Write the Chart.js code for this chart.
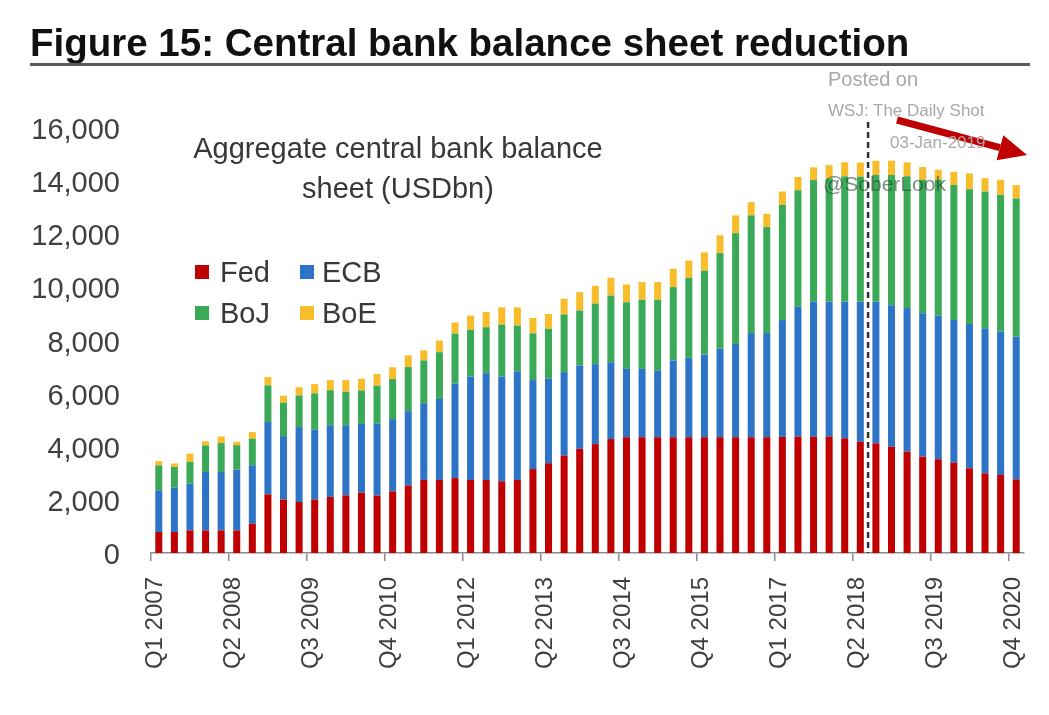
<!DOCTYPE html>
<html lang="en">
<head>
<meta charset="UTF-8">
<title>Central bank balance sheet reduction</title>
<script src="https://cdn.jsdelivr.net/npm/chart.js"></script>
<style>
  body { margin: 0; background: #fff; font-family: "Liberation Sans", Arial, sans-serif; }
  #wrap { position: relative; width: 1049px; height: 715px; overflow: hidden; }
  #chart { position: absolute; left: 0; top: 0; }
  .t { position: absolute; white-space: nowrap; }
  .title { left: 30px; top: 24px; font-size: 38.5px; line-height: 38px; font-weight: bold; color: #111; }
  .rule { position: absolute; left: 30px; top: 63px; width: 1000px; height: 3px; background: #5a5a5a; }
  .sub { left: 148px; top: 128px; width: 500px; text-align: center; font-size: 29px; line-height: 40px; color: #383838; }
  .leg { font-size: 29px; line-height: 30px; color: #383838; }
  .sq { position: absolute; width: 14px; height: 14px; }
  .wm { color: #a8a8a8; }
</style>
</head>
<body>
<div id="wrap">
  <canvas id="chart" width="1049" height="715"></canvas>

  <div class="t title">Figure 15: Central bank balance sheet reduction</div>
  <div class="rule"></div>

  <div class="t sub">Aggregate central bank balance<br>sheet (USDbn)</div>

  <!-- legend -->
  <div class="sq" style="left:195px;top:265px;background:#c00000"></div>
  <div class="t leg" style="left:220px;top:257px">Fed</div>
  <div class="sq" style="left:300px;top:265px;background:#2e74c6"></div>
  <div class="t leg" style="left:322px;top:257px">ECB</div>
  <div class="sq" style="left:195px;top:306px;background:#3aaa58"></div>
  <div class="t leg" style="left:220px;top:298px">BoJ</div>
  <div class="sq" style="left:300px;top:306px;background:#f9bd2c"></div>
  <div class="t leg" style="left:322px;top:298px">BoE</div>

  <!-- watermark -->
  <div class="t wm" style="left:828px;top:68px;font-size:20px">Posted on</div>
  <div class="t wm" style="left:828px;top:101px;font-size:17px">WSJ: The Daily Shot</div>
  <div class="t wm" style="left:890px;top:133px;font-size:17px">03-Jan-2019</div>
  <div class="t" style="left:823px;top:172px;font-size:21px;color:rgba(40,70,45,0.6)">@SoberLook</div>
</div>

<script>
// quarterly data, USD bn
const quarters = [
  'Q1 2007', 'Q2 2007', 'Q3 2007', 'Q4 2007',
  'Q1 2008', 'Q2 2008', 'Q3 2008', 'Q4 2008',
  'Q1 2009', 'Q2 2009', 'Q3 2009', 'Q4 2009',
  'Q1 2010', 'Q2 2010', 'Q3 2010', 'Q4 2010',
  'Q1 2011', 'Q2 2011', 'Q3 2011', 'Q4 2011',
  'Q1 2012', 'Q2 2012', 'Q3 2012', 'Q4 2012',
  'Q1 2013', 'Q2 2013', 'Q3 2013', 'Q4 2013',
  'Q1 2014', 'Q2 2014', 'Q3 2014', 'Q4 2014',
  'Q1 2015', 'Q2 2015', 'Q3 2015', 'Q4 2015',
  'Q1 2016', 'Q2 2016', 'Q3 2016', 'Q4 2016',
  'Q1 2017', 'Q2 2017', 'Q3 2017', 'Q4 2017',
  'Q1 2018', 'Q2 2018', 'Q3 2018', 'Q4 2018',
  'Q1 2019', 'Q2 2019', 'Q3 2019', 'Q4 2019',
  'Q1 2020', 'Q2 2020', 'Q3 2020', 'Q4 2020'
];

const fed = [
  790, 790, 850, 850, 850, 850, 1100,
  2210, 2010, 1920, 2010, 2110, 2170, 2270,
  2160, 2320, 2540, 2750, 2750, 2820, 2750,
  2750, 2700, 2750, 3160, 3380, 3670, 3920,
  4100, 4290, 4360, 4360, 4360, 4360, 4360,
  4360, 4360, 4360, 4360, 4360, 4370, 4380,
  4380, 4380, 4320, 4190, 4130, 4000, 3820,
  3630, 3530, 3400, 3190, 3000, 2940, 2770
];

const ecb = [
  1570, 1670, 1760, 2200, 2200, 2290, 2200,
  2720, 2390, 2820, 2640, 2700, 2640, 2590,
  2720, 2720, 2800, 2890, 3050, 3560, 3890,
  4020, 3940, 4090, 3350, 3180, 3140, 3140,
  3010, 2890, 2570, 2570, 2510, 2890, 2990,
  3110, 3330, 3510, 3920, 3920, 4400, 4890,
  5080, 5080, 5150, 5270, 5330, 5330, 5400,
  5400, 5400, 5370, 5430, 5460, 5400, 5370
];

const boj = [
  940, 780, 820, 1000, 1090, 920, 1000,
  1380, 1260, 1190, 1360, 1320, 1260, 1260,
  1420, 1510, 1660, 1610, 1760, 1880, 1760,
  1730, 1960, 1720, 1760, 1880, 2170, 2070,
  2280, 2510, 2510, 2600, 2660, 2760, 3010,
  3160, 3600, 4170, 4430, 3990, 4340, 4390,
  4580, 4640, 4710, 4710, 4770, 4900, 4960,
  5020, 5120, 5080, 5070, 5150, 5150, 5210
];

const boe = [
  160, 130, 310, 160, 250, 130, 250,
  310, 260, 310, 350, 380, 440, 440,
  440, 440, 440, 380, 440, 420, 540,
  570, 650, 690, 580, 560, 590, 690,
  670, 670, 670, 670, 670, 690, 650,
  690, 670, 670, 500, 500, 500, 500,
  480, 500, 530, 530, 540, 540, 530,
  480, 380, 500, 600, 500, 560, 500
];

const yTicks = [0, 2000, 4000, 6000, 8000, 10000, 12000, 14000, 16000];

const labelEvery = 5;
const markerAt = 45.5; // dashed line, between Q2 and Q3 2018

const axisFont = { family: '"Liberation Sans", Arial, sans-serif', size: 24 };
const axisColor = '#404040';

const overlay = {
  id: 'overlay',
  afterDatasetsDraw(chart) {
    const { ctx, chartArea, scales: { x, y } } = chart;
    const px = x.getPixelForValue(markerAt);

    // dashed marker
    ctx.save();
    ctx.strokeStyle = '#333';
    ctx.lineWidth = 2.5;
    ctx.setLineDash([6, 4]);
    ctx.beginPath();
    ctx.moveTo(px, chartArea.top - 6);
    ctx.lineTo(px, y.getPixelForValue(0));
    ctx.stroke();
    ctx.restore();

    // red arrow
    const x0 = 897, y0 = 120, x1 = 1027, y1 = 155;
    const dx = x1 - x0, dy = y1 - y0, len = Math.hypot(dx, dy);
    const ux = dx / len, uy = dy / len;
    const headLen = 28, headW = 13;
    const bx = x1 - ux * headLen, by = y1 - uy * headLen;
    ctx.save();
    ctx.strokeStyle = '#c00000';
    ctx.fillStyle = '#c00000';
    ctx.lineWidth = 7;
    ctx.beginPath();
    ctx.moveTo(x0, y0);
    ctx.lineTo(bx, by);
    ctx.stroke();
    ctx.beginPath();
    ctx.moveTo(x1, y1);
    ctx.lineTo(bx - uy * headW, by + ux * headW);
    ctx.lineTo(bx + uy * headW, by - ux * headW);
    ctx.closePath();
    ctx.fill();
    ctx.restore();
  }
};

const bar = { barPercentage: 0.45, categoryPercentage: 1.0, borderWidth: 0 };

new Chart(document.getElementById('chart'), {
  type: 'bar',
  data: {
    labels: quarters,
    datasets: [
      { label: 'Fed', data: fed, backgroundColor: '#c00000', ...bar },
      { label: 'ECB', data: ecb, backgroundColor: '#2e74c6', ...bar },
      { label: 'BoJ', data: boj, backgroundColor: '#3aaa58', ...bar },
      { label: 'BoE', data: boe, backgroundColor: '#f9bd2c', ...bar }
    ]
  },
  options: {
    responsive: false,
    animation: false,
    layout: { padding: { left: 0, right: 0, top: 128, bottom: 0 } },
    plugins: {
      legend: { display: false },
      tooltip: { enabled: false }
    },
    scales: {
      x: {
        stacked: true,
        offset: true,
        grid: {
          offset: true,
          drawOnChartArea: false,
          drawTicks: true,
          tickLength: 8,
          lineWidth: 1.5,
          color: ctx => (ctx.index % labelEvery === 0 ? '#8c8c8c' : 'rgba(0,0,0,0)')
        },
        border: { display: true, color: '#8c8c8c', width: 1.5 },
        ticks: {
          autoSkip: false,
          minRotation: 90,
          maxRotation: 90,
          padding: 16,
          labelOffset: -3,
          color: axisColor,
          font: axisFont,
          callback: (v, i) => (i % labelEvery === 0 ? quarters[i] : '')
        },
        afterFit: s => {
          s.height = 162;
          s.paddingLeft = 0;
          s.paddingRight = 25;
        }
      },
      y: {
        stacked: true,
        min: yTicks[0],
        max: yTicks[yTicks.length - 1],
        afterBuildTicks: s => { s.ticks = yTicks.map(v => ({ value: v })); },
        grid: { display: false, drawTicks: false },
        border: { display: false },
        ticks: {
          padding: 31,
          labelOffset: 3,
          color: axisColor,
          font: { family: axisFont.family, size: 29 },
          callback: v => v.toLocaleString('en-US')
        },
        afterFit: s => { s.width = 151; }
      }
    }
  },
  plugins: [overlay]
});
</script>
</body>
</html>
